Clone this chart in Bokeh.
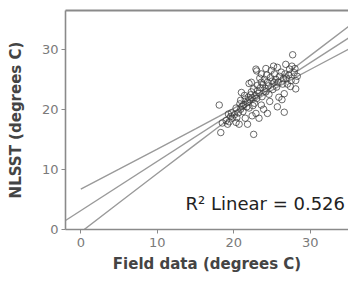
from bokeh.plotting import figure
from bokeh.models import Range1d, LinearAxis, FixedTicker, Label
from bokeh.embed import file_html
from bokeh.resources import INLINE

# ---- data ----
field = [27.7, 18.1, 26.6, 18.3, 22.6, 20.7, 21.8, 18.5, 19.2, 19.6, 25.7, 24.9, 22.9, 23.0,
         27.3, 27.9, 28.1, 28.1, 26.6, 26.4, 27.5, 22.3, 23.6, 24.4, 25.3, 21.4, 22.3, 23.1,
         24.2, 20.9, 21.8, 22.7, 23.6, 20.3, 21.2, 22.0, 23.3, 22.9,
         19.0, 19.4, 19.8, 20.1, 20.4, 20.6, 20.9, 21.1, 21.3, 21.5, 21.7, 21.9, 22.1, 22.2,
         22.4, 22.5, 22.6, 22.8, 23.0, 23.1, 23.3, 23.4, 23.5, 23.7, 23.8, 24.0, 24.1, 24.3,
         24.5, 24.6, 24.8, 25.0, 25.1, 25.3, 25.5, 25.6, 25.8, 26.0, 26.2, 26.5, 26.7, 26.9,
         27.2, 27.0, 25.9, 24.7, 23.9, 22.4, 21.5, 20.3, 19.7, 21.0, 22.0, 24.2, 23.6, 25.2,
         26.8, 27.6, 28.0, 27.4, 25.7, 24.4, 20.8, 19.3, 26.3, 28.3]
nlsst = [29.2, 20.8, 19.6, 16.2, 15.9, 17.6, 17.6, 17.8, 17.6, 18.9, 27.1, 26.6, 26.8, 26.5,
         26.8, 26.2, 24.9, 23.5, 22.7, 24.3, 24.9, 24.6, 24.6, 24.6, 24.6, 22.4, 23.0, 23.2,
         23.0, 21.6, 21.3, 21.1, 20.8, 20.3, 19.7, 20.3, 18.6, 19.4,
         18.2, 18.0, 18.6, 19.2, 18.7, 19.5, 20.1, 20.6, 20.9, 21.8, 20.5, 22.1, 21.7, 22.5,
         22.0, 20.7, 23.5, 22.4, 21.9, 24.1, 22.8, 25.3, 23.7, 22.2, 24.2, 25.1, 23.6, 25.8,
         24.0, 22.6, 25.4, 24.8, 23.4, 26.0, 25.1, 23.8, 24.6, 25.6, 26.3, 25.2, 26.0, 25.3,
         25.8, 24.3, 22.1, 21.4, 20.1, 19.0, 18.6, 17.9, 19.5, 22.9, 24.4, 26.9, 26.0, 27.3,
         27.6, 27.3, 26.9, 23.9, 20.5, 19.4, 21.0, 19.3, 21.7, 25.6]

fit_x = [-2.0, 36.1]
fit_y = [1.5, 32.9]

band_x = [0, 5, 10, 15, 18, 20, 22, 23, 24, 26, 28, 30, 35]
band_upper = [6.74, 10.09, 13.45, 16.83, 18.87, 20.26, 21.73, 22.53, 23.38, 25.21, 27.12, 29.06, 33.93]
band_lower = [-0.44, 4.46, 9.35, 14.22, 17.13, 19.04, 20.87, 21.73, 22.52, 23.99, 25.38, 26.74, 30.13]

x_ticks = [0, 10, 20, 30]
y_ticks = [0, 10, 20, 30]
r2_text = "R\u00b2 Linear = 0.526"

# ---- figure ----
p = figure(width=348, height=275, output_backend="svg", toolbar_location=None,
           x_range=Range1d(-2.0, 35.0), y_range=Range1d(0, 36.6),
           x_axis_label="Field data (degrees C)", y_axis_label="NLSST (degrees C)",
           min_border_left=65, min_border_right=0, min_border_top=10, min_border_bottom=0)
p.outline_line_color = None
p.grid.visible = False
p.background_fill_color = "white"
p.border_fill_color = "white"

axis_col = "#8a8a8a"
for ax in (p.xaxis[0], p.yaxis[0]):
    ax.axis_line_color = axis_col
    ax.axis_line_width = 1.6
    ax.major_tick_line_color = axis_col
    ax.major_tick_out = 4
    ax.major_tick_in = 0
    ax.minor_tick_line_color = None
    ax.major_label_text_font = "DejaVu Sans"
    ax.major_label_text_font_size = "13px"
    ax.major_label_text_color = "#7a7a7a"
    ax.axis_label_text_font = "DejaVu Sans"
    ax.axis_label_text_font_style = "bold"
    ax.axis_label_text_font_size = "15px"
    ax.axis_label_text_color = "#444444"
p.xaxis[0].ticker = FixedTicker(ticks=x_ticks)
p.yaxis[0].ticker = FixedTicker(ticks=y_ticks)
p.xaxis[0].major_label_standoff = 4
p.xaxis[0].axis_label_standoff = 5
p.yaxis[0].major_label_standoff = 3
p.yaxis[0].axis_label_standoff = 14

top = LinearAxis(ticker=FixedTicker(ticks=[]))
top.axis_line_color = axis_col
top.axis_line_width = 2
top.major_tick_line_color = None
top.minor_tick_line_color = None
top.major_label_text_font_size = "0px"
top.major_label_standoff = 0
top.major_tick_out = 0
p.add_layout(top, "above")

line_col = "#9a9a9a"
p.line(fit_x, fit_y, line_color=line_col, line_width=1.4)
p.line(band_x, band_upper, line_color=line_col, line_width=1.4)
p.line(band_x, band_lower, line_color=line_col, line_width=1.4)

p.scatter(field, nlsst, marker="circle", size=6.5, fill_color=None,
          line_color="#3a3a3a", line_width=1, line_alpha=0.75)

p.add_layout(Label(x=13.7, y=4.3, text=r2_text, text_font="DejaVu Sans",
                   text_font_size="18px", text_color="#222222",
                   text_baseline="alphabetic", text_align="left"))

open("out.html", "w").write(file_html(p, INLINE))
